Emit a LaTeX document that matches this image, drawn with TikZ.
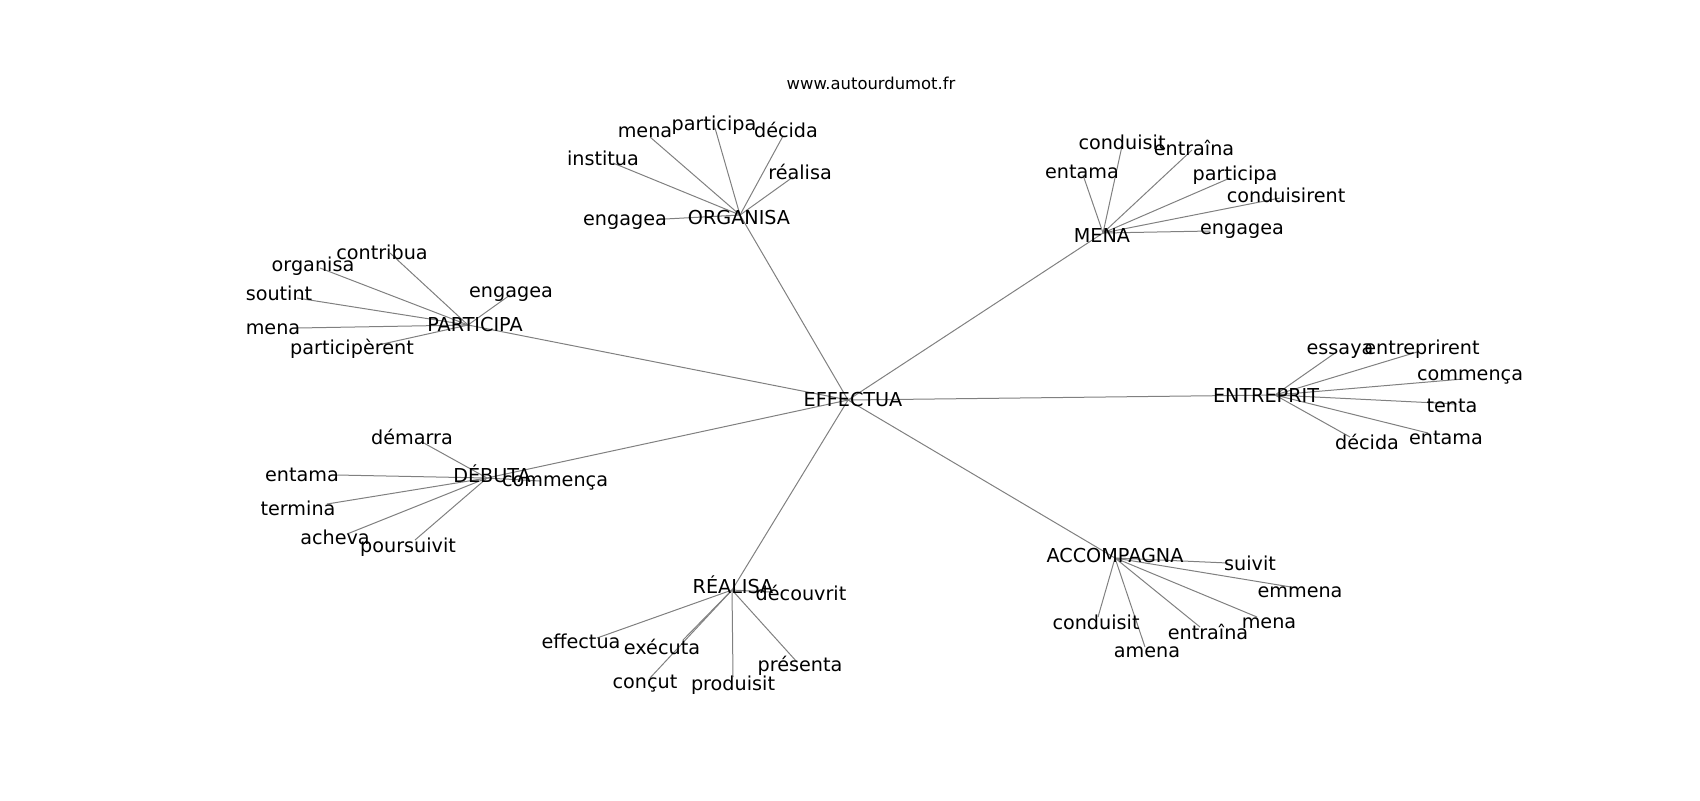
\documentclass[tikz,border=0pt]{standalone}
\usepackage{fontspec}
\setmainfont{DejaVu Sans}
\begin{document}
\begin{tikzpicture}[x=0.5pt,y=-0.5pt,
  lab/.style={inner sep=0pt,font=\fontsize{9.6pt}{9.6pt}\selectfont,text height=0.73em,text depth=0pt,anchor=center},
  ttl/.style={inner sep=0pt,font=\fontsize{8.2pt}{8.2pt}\selectfont,text height=0.73em,text depth=0pt,anchor=center},
  edge/.style={draw=gray,line width=0.5pt}]
\useasboundingbox (0,0) rectangle (1700,800);
\node[ttl] (title) at (871,82) {www.autourdumot.fr};
% endpoints
\coordinate (E) at (848,400);
\coordinate (O) at (740,215);
\coordinate (M) at (1103,233);
\coordinate (P) at (468,325);
\coordinate (T) at (1275,395);
\coordinate (D) at (487,478);
\coordinate (R) at (732,590);
\coordinate (A) at (1115,558);
% ORGANISA leaves
\coordinate (o1) at (665,219);
\coordinate (o2) at (613,163);
\coordinate (o3) at (650,137);
\coordinate (o4) at (715,128);
\coordinate (o5) at (783,136);
\coordinate (o6) at (793,177);
% MENA leaves
\coordinate (m1) at (1122,146);
\coordinate (m2) at (1083,175);
\coordinate (m3) at (1192,150);
\coordinate (m4) at (1230,178);
\coordinate (m5) at (1280,198);
\coordinate (m6) at (1210,231);
% PARTICIPA leaves
\coordinate (p1) at (390,253);
\coordinate (p2) at (320,268);
\coordinate (p3) at (297,298);
\coordinate (p4) at (297,328);
\coordinate (p5) at (378,345);
\coordinate (p6) at (510,295);
% ENTREPRIT leaves
\coordinate (t1) at (1335,353);
\coordinate (t2) at (1417,352);
\coordinate (t3) at (1463,379);
\coordinate (t4) at (1457,404);
\coordinate (t5) at (1428,433);
\coordinate (t6) at (1350,437);
% DEBUTA leaves
\coordinate (d1) at (422,442);
\coordinate (d2) at (337,475);
\coordinate (d3) at (327,504);
\coordinate (d4) at (347,534);
\coordinate (d5) at (415,540);
\coordinate (d6) at (540,481);
% REALISA leaves
\coordinate (r1) at (770,592);
\coordinate (r2) at (597,638);
\coordinate (r3) at (683,640);
\coordinate (r4) at (650,678);
\coordinate (r5) at (733,677);
\coordinate (r6) at (797,662);
% ACCOMPAGNA leaves
\coordinate (a1) at (1228,563);
\coordinate (a2) at (1297,588);
\coordinate (a3) at (1257,617);
\coordinate (a4) at (1200,627);
\coordinate (a5) at (1145,647);
\coordinate (a6) at (1098,617);
% edges
\foreach \h in {O,M,P,T,D,R,A} \draw[edge] (E) -- (\h);
\foreach \l in {o1,o2,o3,o4,o5,o6} \draw[edge] (O) -- (\l);
\foreach \l in {m1,m2,m3,m4,m5,m6} \draw[edge] (M) -- (\l);
\foreach \l in {p1,p2,p3,p4,p5,p6} \draw[edge] (P) -- (\l);
\foreach \l in {t1,t2,t3,t4,t5,t6} \draw[edge] (T) -- (\l);
\foreach \l in {d1,d2,d3,d4,d5,d6} \draw[edge] (D) -- (\l);
\foreach \l in {r1,r2,r3,r4,r5,r6} \draw[edge] (R) -- (\l);
\foreach \l in {a1,a2,a3,a4,a5,a6} \draw[edge] (A) -- (\l);
% labels
\node[lab] (EL) at (853,399) {EFFECTUA};
\node[lab] (OL) at (739,217) {ORGANISA};
\node[lab] (ML) at (1102,235) {MENA};
\node[lab] (PL) at (475,324) {PARTICIPA};
\node[lab] (TL) at (1266,395) {ENTREPRIT};
\node[lab] (DL) at (492,475) {DÉBUTA};
\node[lab] (RL) at (733,586) {RÉALISA};
\node[lab] (AL) at (1115,555) {ACCOMPAGNA};
\node[lab] (o1L) at (625,218) {engagea};
\node[lab] (o2L) at (603,158) {institua};
\node[lab] (o3L) at (645,130) {mena};
\node[lab] (o4L) at (714,123) {participa};
\node[lab] (o5L) at (786,130) {décida};
\node[lab] (o6L) at (800,172) {réalisa};
\node[lab] (m1L) at (1122,142) {conduisit};
\node[lab] (m2L) at (1082,171) {entama};
\node[lab] (m3L) at (1194,148) {entraîna};
\node[lab] (m4L) at (1235,173) {participa};
\node[lab] (m5L) at (1286,195) {conduisirent};
\node[lab] (m6L) at (1242,227) {engagea};
\node[lab] (p1L) at (382,252) {contribua};
\node[lab] (p2L) at (313,264) {organisa};
\node[lab] (p3L) at (279,293) {soutint};
\node[lab] (p4L) at (273,327) {mena};
\node[lab] (p5L) at (352,347) {participèrent};
\node[lab] (p6L) at (511,290) {engagea};
\node[lab] (t1L) at (1340,347) {essaya};
\node[lab] (t2L) at (1422,347) {entreprirent};
\node[lab] (t3L) at (1470,373) {commença};
\node[lab] (t4L) at (1452,405) {tenta};
\node[lab] (t5L) at (1446,437) {entama};
\node[lab] (t6L) at (1367,442) {décida};
\node[lab] (d1L) at (412,437) {démarra};
\node[lab] (d2L) at (302,474) {entama};
\node[lab] (d3L) at (298,508) {termina};
\node[lab] (d4L) at (335,537) {acheva};
\node[lab] (d5L) at (408,545) {poursuivit};
\node[lab] (d6L) at (555,479) {commença};
\node[lab] (r1L) at (801,593) {découvrit};
\node[lab] (r2L) at (581,641) {effectua};
\node[lab] (r3L) at (662,647) {exécuta};
\node[lab] (r4L) at (645,681) {conçut};
\node[lab] (r5L) at (733,683) {produisit};
\node[lab] (r6L) at (800,664) {présenta};
\node[lab] (a1L) at (1250,563) {suivit};
\node[lab] (a2L) at (1300,590) {emmena};
\node[lab] (a3L) at (1269,621) {mena};
\node[lab] (a4L) at (1208,632) {entraîna};
\node[lab] (a5L) at (1147,650) {amena};
\node[lab] (a6L) at (1096,622) {conduisit};
\end{tikzpicture}
\end{document}
